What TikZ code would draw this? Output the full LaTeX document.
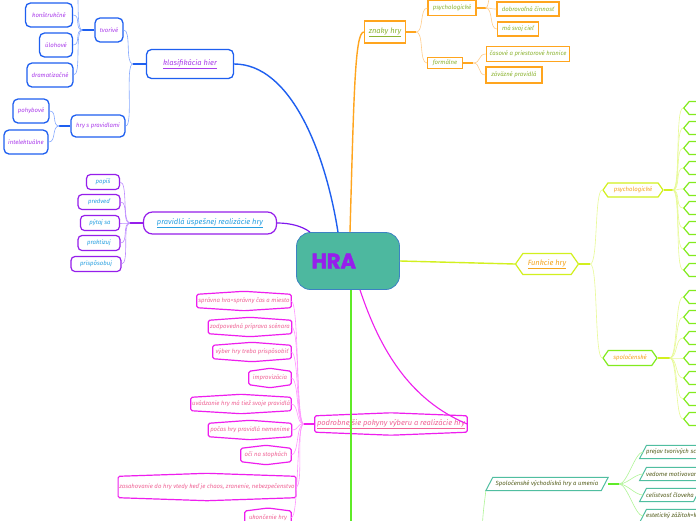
\documentclass[tikz,border=0pt]{standalone}
\usepackage{fontspec}
\setmainfont{Fira Sans}
\newfontfamily\hrafont{Poppins}[BoldFeatures={FakeBold=2}]
\usetikzlibrary{positioning, shapes.geometric, shapes.symbols}
\definecolor{hrateal}{RGB}{77,184,159}
\definecolor{hraedge}{RGB}{60,130,195}
\definecolor{hrapurple}{RGB}{150,30,235}
\definecolor{klasblue}{RGB}{30,95,240}
\definecolor{klaslight}{RGB}{135,170,255}
\definecolor{klastext}{RGB}{170,60,235}
\definecolor{pravviolet}{RGB}{150,30,235}
\definecolor{pravlight}{RGB}{190,140,255}
\definecolor{pravtext}{RGB}{40,160,225}
\definecolor{znakorange}{RGB}{255,165,30}
\definecolor{znaklight}{RGB}{255,205,140}
\definecolor{znaktext}{RGB}{140,180,50}
\definecolor{funkyellow}{RGB}{210,240,30}
\definecolor{funklight}{RGB}{232,250,150}
\definecolor{funkgreen}{RGB}{130,235,30}
\definecolor{funktext}{RGB}{245,165,30}
\definecolor{podmag}{RGB}{238,30,238}
\definecolor{podlight}{RGB}{255,150,255}
\definecolor{podtext}{RGB}{240,100,150}
\definecolor{spolgreen}{RGB}{95,235,40}
\definecolor{spolteal}{RGB}{80,190,160}
\definecolor{spoltext}{RGB}{85,95,30}
\definecolor{spollight}{RGB}{175,245,150}

\begin{document}
\begin{tikzpicture}[x=1pt,y=-1pt,
  lbl/.style={font=\fontsize{6pt}{7pt}\selectfont\itshape, inner sep=1pt},
  biglbl/.style={font=\fontsize{7.5pt}{8.5pt}\selectfont\itshape, inner sep=1pt},
  klasbox/.style={lbl, draw=klasblue, line width=1.3pt, rounded corners=5pt, minimum height=24pt, text=klastext},
  pravbox/.style={lbl, draw=pravviolet, line width=1.2pt, rounded corners=4pt, minimum height=15pt, text=pravtext},
  znakbox/.style={lbl, draw=znakorange, line width=1.2pt, minimum height=14pt, text=znaktext},
  funkbox/.style={lbl, signal, signal to=west and east, signal pointer angle=110, draw=funkyellow, line width=1.2pt, text=funktext, minimum height=14pt},
  leafbox/.style={signal, signal to=west and east, signal pointer angle=100, draw=funkgreen, line width=1.2pt, minimum height=13pt, minimum width=40pt, anchor=west},
  podbox/.style={lbl, text=podtext, minimum height=13pt},
  podline/.style={draw=podmag, line width=1.2pt, rounded corners=1.5pt},
  spolbox/.style={lbl, text=spoltext, minimum height=13pt, inner xsep=3pt},
  spolline/.style={draw=spolteal, line width=1pt},
  stub/.style={line width=1.5pt},
  twig/.style={line width=0.6pt},
  twigl/.style={out=180, in=0, out distance=8pt, in distance=8pt},
  twigr/.style={out=0, in=180, out distance=8pt, in distance=8pt}]

\fill[white] (0,0) rectangle (696,520);
\useasboundingbox (0,0) rectangle (696,520);

%centre
\node[draw=hraedge, line width=0.8pt, fill=hrateal, rounded corners=14pt, minimum height=57pt,
  text width=73pt, inner xsep=15pt, align=left, text=hrapurple,
  font=\hrafont\bfseries\fontsize{21pt}{22pt}\selectfont] (hra) at (348,261) {HRA};

%klasifikacia hier
\node[klasbox, biglbl, minimum width=87pt, minimum height=29pt] (klas) at (190,64) {\underline{klasifikácia hier}};
\node[klasbox, minimum width=28pt] (tvor) at (109,30) {tvorivé};
\node[klasbox, minimum width=54pt, minimum height=22pt] (hrys) at (98,126) {hry s pravidlami};
\node[klasbox, minimum width=47pt] (kons) at (49,15) {konštrukčné};
\node[klasbox, minimum width=33pt] (uloh) at (56,45) {úlohové};
\node[klasbox, minimum width=46pt] (dram) at (50,75) {dramatizačné};
\node[klasbox, minimum width=36pt] (pohy) at (31,111) {pohybové};
\node[klasbox, minimum width=44pt] (inte) at (26,142) {intelektuálne};
\coordinate (tvtop) at (78,-12);

%pravidla
\node[pravbox, biglbl, minimum width=133pt, minimum height=22pt, rounded corners=9pt] (prav) at (210,223) {\underline{pravidlá úspešnej realizácie hry}};
\node[pravbox, minimum width=33pt] (popi) at (103,182) {popíš};
\node[pravbox, minimum width=42pt] (pred) at (99,202) {predveď};
\node[pravbox, minimum width=39pt] (pyta) at (100,223) {pýtaj sa};
\node[pravbox, minimum width=42pt] (prak) at (99,243) {praktizuj};
\node[pravbox, minimum width=50pt] (pris) at (96,264) {prispôsobuj};

%znaky hry
\node[znakbox, biglbl, minimum width=41pt, minimum height=22pt] (znak) at (385,32) {\underline{znaky hry}};
\node[znakbox, minimum width=48pt, minimum height=15pt] (psy) at (452,8) {psychologické};
\node[znakbox, minimum width=35pt, minimum height=11pt] (form) at (445,63) {formálne};
\node[znakbox, minimum width=62pt] (dobr) at (528,9) {dobrovoľná činnosť};
\node[znakbox, minimum width=41pt] (masv) at (518,29) {má svoj cieľ};
\node[znakbox, minimum width=83pt, minimum height=15pt] (caso) at (528,54) {časové a priestorové hranice};
\node[znakbox, minimum width=56pt, minimum height=16pt] (zava) at (514,75) {záväzné pravidlá};
\coordinate (psytop) at (490,-12);

%funkcie hry
\node[funkbox, biglbl, minimum width=63pt, minimum height=21pt] (funk) at (547,264) {\underline{Funkcie hry}};
\node[funkbox, minimum width=60pt] (psyf) at (633,190) {psychologické};
\node[funkbox, draw=funkgreen, minimum width=54pt, minimum height=15pt] (spof) at (630,358) {spoločenské};
\foreach \y [count=\i] in {108,128,148,168,189,208,228,249,270}
  \node[leafbox] (fp\i) at (683,\y) {};
\foreach \y [count=\i] in {297,317,338,358,378,399,419}
  \node[leafbox] (fs\i) at (683,\y) {};

%podrobnejsie pokyny
\node[podbox, biglbl, minimum width=152pt, minimum height=16pt] (pod) at (391,424) {\underline{podrobnejšie pokyny výberu a realizácie hry}};
\node[podbox, minimum width=94pt] (p1) at (244,301) {správna hra=správny čas a miesto};
\node[podbox, minimum width=83pt] (p2) at (250,327) {zodpovedná príprava scénara};
\node[podbox, minimum width=78pt] (p3) at (252,352) {výber hry treba prispôsobiť};
\node[podbox, minimum width=42pt] (p4) at (270,378) {improvizácia};
\node[podbox, minimum width=99pt] (p5) at (241,404) {uvádzanie hry má tiež svoje pravidlá};
\node[podbox, minimum width=83pt] (p6) at (250,430) {počas hry pravidlá nemeníme};
\node[podbox, minimum width=50pt] (p7) at (266,455) {oči na stopkách};
\node[podbox, minimum width=168pt, minimum height=21pt] (p8) at (207,487) {zasahovanie do hry vtedy keď je chaos, zranenie, nebezpečenstvo};
\node[podbox, minimum width=46pt, anchor=north] (p9) at (268,511) {ukončenie hry};
\foreach \n in {pod,p1,p2,p3,p4,p5,p6,p7,p8,p9}
  \draw[podline] (\n.north west) -- ([yshift=3pt]\n.north) -- (\n.north east) -- (\n.south east)
    -- ([yshift=-3pt]\n.south) -- (\n.south west) -- cycle;

%spolocenske vychodiska
\node[spolbox, minimum width=115pt] (svh) at (547,484) {Spoločenské východiská hry a umenia};
\node[spolbox, anchor=west] (sv1) at (643,452) {prejav tvorivých schopností};
\node[spolbox, anchor=west] (sv2) at (643,474) {vedome motivované konanie};
\node[spolbox, anchor=west] (sv3) at (643,495) {celistvosť človeka};
\node[spolbox, anchor=west] (sv4) at (643,516) {estetický zážitok=krása};
\foreach \n in {svh,sv1,sv2,sv3,sv4}
  \draw[spolline] ([xshift=-3.5pt]\n.south west) -- ([xshift=3.5pt]\n.north west)
    -- ([xshift=3.5pt]\n.north east) -- ([xshift=-3.5pt]\n.south east) -- cycle;
\coordinate (svroot) at (482,540);
\coordinate (greenend) at (351,540);

%main branches
\draw[klasblue, line width=1.4pt] ([xshift=-10pt]hra.north) .. controls (325,150) and (290,64) .. (klas.east);
\draw[pravviolet!85!blue, line width=1.2pt] ([xshift=-38pt]hra.north) .. controls (302,226) and (290,223) .. (prav.east);
\draw[znakorange, line width=1.4pt] ([xshift=2pt]hra.north) .. controls (354,90) and (355,32) .. (znak.west);
\draw[funkyellow, line width=1.4pt] (hra.east) -- (funk.west);
\draw[podmag, line width=1.1pt] ([xshift=12pt]hra.south) .. controls (380,350) and (410,400) .. (pod.east);
\draw[spolgreen, line width=1.6pt] ([xshift=3pt]hra.south) -- (greenend);

%stubs and twigs
\draw[stub, klasblue] (klas.west) -- ++(-13,0) coordinate (jklas);
\foreach \c in {tvor,hrys} \draw[twig, klaslight] (jklas) to[twigl] (\c.east);
\draw[stub, klasblue] (tvor.west) -- ++(-12,0) coordinate (jtvor);
\foreach \c in {kons,uloh,dram} \draw[twig, klaslight] (jtvor) to[twigl] (\c.east);
\draw[twig, klaslight] (jtvor) .. controls (78,30) and (78,15) .. (tvtop);
\draw[stub, klasblue] (hrys.west) -- ++(-11,0) coordinate (jhrys);
\foreach \c in {pohy,inte} \draw[twig, klaslight] (jhrys) to[twigl] (\c.east);

\draw[stub, pravviolet] (prav.west) -- ++(-13,0) coordinate (jprav);
\foreach \c in {popi,pred,pyta,prak,pris} \draw[twig, pravlight] (jprav) to[twigl] (\c.east);

\draw[stub, znakorange] (znak.east) -- ++(10,0) coordinate (jznak);
\foreach \c in {psy,form} \draw[twig, znaklight] (jznak) to[twigr] (\c.west);
\draw[stub, znakorange] (psy.east) -- ++(9,0) coordinate (jpsy);
\foreach \c in {dobr,masv} \draw[twig, znaklight] (jpsy) to[twigr] (\c.west);
\draw[twig, znaklight] (jpsy) .. controls (488,8) and (489,0) .. (psytop);
\draw[stub, znakorange] (form.east) -- ++(10,0) coordinate (jform);
\foreach \c in {caso,zava} \draw[twig, znaklight] (jform) to[twigr] (\c.west);

\draw[stub, funkyellow] (funk.east) -- ++(11,0) coordinate (jfunk);
\foreach \c in {psyf,spof} \draw[twig, funklight] (jfunk) to[twigr] (\c.west);
\draw[stub, funkyellow] (psyf.east) -- ++(9,0) coordinate (jpsyf);
\foreach \i in {1,...,9} \draw[twig, funklight] (jpsyf) to[twigr] (fp\i.west);
\draw[stub, funkyellow] (spof.east) -- ++(12,0) coordinate (jspof);
\foreach \i in {1,...,7} \draw[twig, funklight] (jspof) to[twigr] (fs\i.west);

\draw[stub, podmag] (pod.west) -- ++(-11,0) coordinate (jpod);
\foreach \i in {1,...,9} \draw[twig, podlight] (jpod) to[twigl] (p\i.east);

\draw[stub, spolgreen] ([xshift=3.5pt]svh.east) -- ++(11,0) coordinate (jsvh);
\foreach \i in {1,...,4} \draw[twig, spollight] (jsvh) to[twigr] (sv\i.west);
\draw[twig, spollight] ([xshift=-3.5pt]svh.south west) .. controls (485,500) and (482,515) .. (svroot);
\end{tikzpicture}
\end{document}
